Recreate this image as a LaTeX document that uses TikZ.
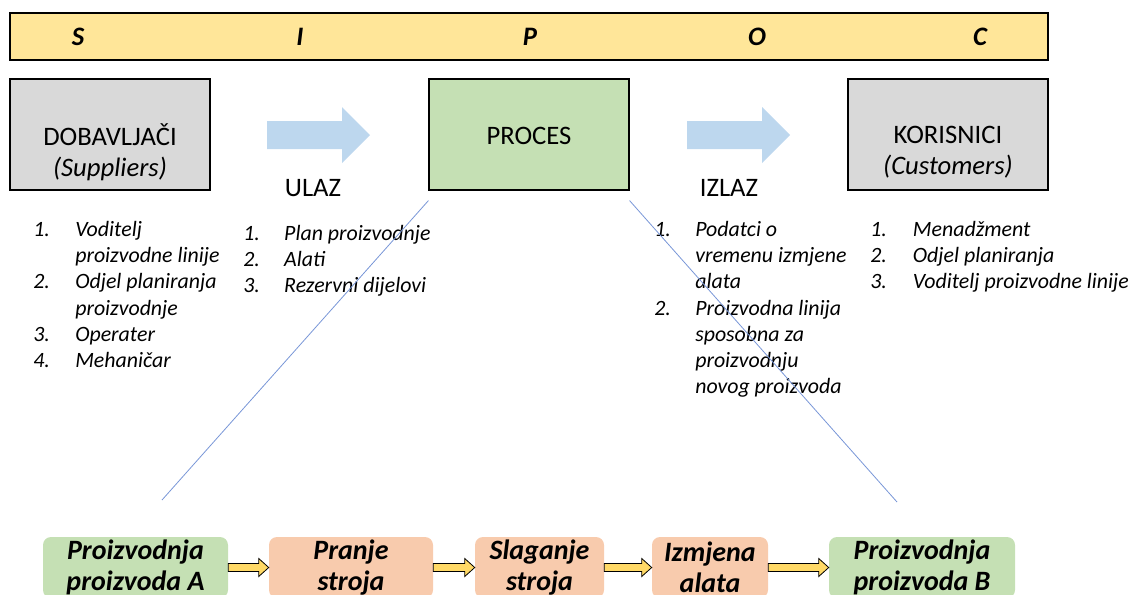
\documentclass[tikz,border=0pt]{standalone}
\usepackage{fontspec}
\setmainfont{Carlito}
\usetikzlibrary{calc}

\definecolor{barfill}{HTML}{FFE699}
\definecolor{boxgrey}{HTML}{D9D9D9}
\definecolor{boxgreen}{HTML}{C5E0B4}
\definecolor{boxsalmon}{HTML}{F8CBAD}
\definecolor{arrowblue}{HTML}{BDD7EE}
\definecolor{arrowyellow}{HTML}{FFD966}
\definecolor{zoomblue}{RGB}{120,150,215}

\begin{document}
\begin{tikzpicture}[x=0.75pt,y=-0.75pt]

	\tikzstyle{bar} = [draw=black, fill=barfill, line width=0.8pt, minimum width=778.5pt, minimum height=35.25pt, inner sep=0pt]
	\tikzstyle{letter} = [font=\fontsize{20}{24}\selectfont\bfseries\itshape]
	\tikzstyle{box_grey} = [draw=black, fill=boxgrey, line width=0.8pt, minimum width=150pt, minimum height=83.25pt, inner sep=0pt]
	\tikzstyle{box_green} = [box_grey, fill=boxgreen]
	\tikzstyle{box_text} = [align=center, font=\fontsize{20}{23.25}\selectfont, inner sep=0pt]
	\tikzstyle{list} = [anchor=base west, inner sep=0pt, font=\fontsize{16.4}{19.65}\selectfont\itshape]
	\tikzstyle{block_arrow} = [fill=arrowblue]
	\tikzstyle{zoom_line} = [draw=zoomblue, line width=0.6pt]
	\tikzstyle{phase} = [rounded corners=6pt, fill=boxsalmon, minimum height=45.75pt, inner sep=0pt, align=center, font=\fontsize{21}{23.25}\selectfont\bfseries\itshape]
	\tikzstyle{phase_green} = [phase, fill=boxgreen]
	\tikzstyle{flow} = [draw=black, fill=arrowyellow, line width=0.6pt,
		to path={let \p1=(\tikztostart), \p2=(\tikztotarget) in
			(\x1,\y1+3pt) -- (\x2-7.5pt,\y1+3pt) -- (\x2-7.5pt,\y1+6.75pt) -- (\x2,\y1)
			-- (\x2-7.5pt,\y1-6.75pt) -- (\x2-7.5pt,\y1-3pt) -- (\x1,\y1-3pt) -- cycle}]

	\useasboundingbox (0,0) rectangle (1131,594);

%------------------------------------------------------------
	\node[bar] (sipoc) at (529,36.5) {};
	\node[letter] (s) at (78,37) {S};
	\node[letter] (i) at (300,37) {I};
	\node[letter] (p) at (530,37) {P};
	\node[letter] (o) at (757,37) {O};
	\node[letter] (c) at (980,37) {C};

%------------------------------------------------------------
	\node[box_grey] (sup) at (110,134.5) {};
	\node[box_text] (sup_txt) at (110,152) {DOBAVLJAČI\\\itshape (Suppliers)};

	\node[box_green] (proc) at (529,134.5) {};
	\node[box_text] (proc_txt) at (529,136) {PROCES};

	\node[box_grey] (cust) at (948,134.5) {};
	\node[box_text] (cust_txt) at (948,152) {KORISNICI\\\itshape (Customers)};

	\fill[block_arrow] (267,121) -- (342,121) -- (342,107) -- (370,135) -- (342,163) -- (342,149) -- (267,149) -- cycle;
	\fill[block_arrow] (687,121) -- (762,121) -- (762,107) -- (790,135) -- (762,163) -- (762,149) -- (687,149) -- cycle;

	\node[box_text] (in_txt) at (313,188) {ULAZ};
	\node[box_text] (out_txt) at (729,188) {IZLAZ};

%------------------------------------------------------------
	\node[list] (sup_list) at (33,236.5) {\begin{tabular}[t]{@{}p{31.5pt}@{}l@{}}
		1. & Voditelj\\
		   & proizvodne linije\\
		2. & Odjel planiranja\\
		   & proizvodnje\\
		3. & Operater\\
		4. & Mehaničar
	\end{tabular}};

	\node[list] (in_list) at (243,240) {\begin{tabular}[t]{@{}p{30.75pt}@{}l@{}}
		1. & Plan proizvodnje\\
		2. & Alati\\
		3. & Rezervni dijelovi
	\end{tabular}};

	\node[list] (out_list) at (654,236.5) {\begin{tabular}[t]{@{}p{30.75pt}@{}l@{}}
		1. & Podatci o\\
		   & vremenu izmjene\\
		   & alata\\
		2. & Proizvodna linija\\
		   & sposobna za\\
		   & proizvodnju\\
		   & novog proizvoda
	\end{tabular}};

	\node[list] (cust_list) at (870,236.5) {\begin{tabular}[t]{@{}p{32pt}@{}l@{}}
		1. & Menadžment\\
		2. & Odjel planiranja\\
		3. & Voditelj proizvodne linije
	\end{tabular}};

%------------------------------------------------------------
	\coordinate (zoom_l) at (162,500);
	\coordinate (zoom_r) at (897,502);
	\draw[zoom_line] ([yshift=-7.5pt]proc.south west) -- (zoom_l);
	\draw[zoom_line] ([yshift=-7.5pt]proc.south east) -- (zoom_r);

%------------------------------------------------------------
	\node[phase_green, minimum width=138.75pt] (prod_a) at (135.5,567.5) {Proizvodnja\\proizvoda A};
	\node[phase, minimum width=123pt] (wash) at (351,567.5) {Pranje\\stroja};
	\node[phase, minimum width=96.75pt] (stack) at (539.5,567.5) {Slaganje\\stroja};
	\node[phase, minimum width=87pt] (tools) at (710,567.5) {Izmjena\\alata};
	\node[phase_green, minimum width=139.5pt] (prod_b) at (922,567.5) {Proizvodnja\\proizvoda B};

	\path (prod_a.east) edge[flow] (wash.west);
	\path (wash.east) edge[flow] (stack.west);
	\path (stack.east) edge[flow] (tools.west);
	\path (tools.east) edge[flow] (prod_b.west);

\end{tikzpicture}
\end{document}
